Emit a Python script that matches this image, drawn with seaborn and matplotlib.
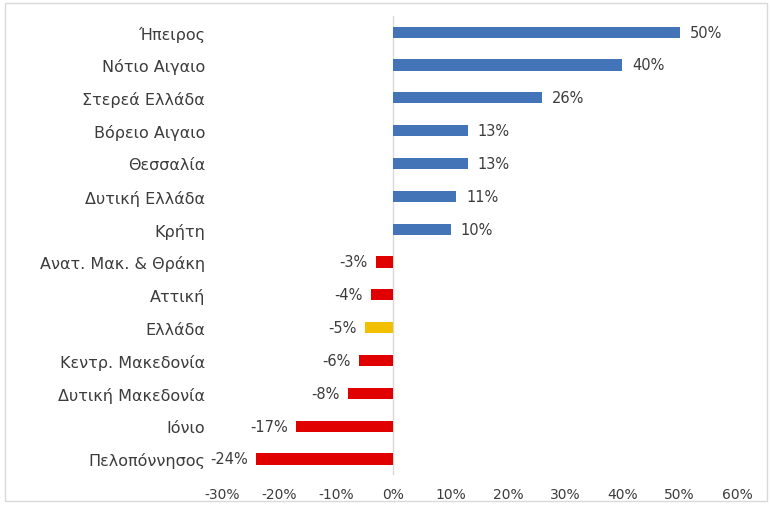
import matplotlib
matplotlib.use("Agg")
import matplotlib.pyplot as plt
import seaborn as sns
import pandas as pd
from matplotlib.patches import Rectangle

categories = ["Ήπειρος", "Νότιο Αιγαιο", "Στερεά Ελλάδα", "Βόρειο Αιγαιο", "Θεσσαλία",
              "Δυτική Ελλάδα", "Κρήτη", "Ανατ. Μακ. & Θράκη", "Αττική", "Ελλάδα",
              "Κεντρ. Μακεδονία", "Δυτική Μακεδονία", "Ιόνιο", "Πελοπόννησος"]
values = [50, 40, 26, 13, 13, 11, 10, -3, -4, -5, -6, -8, -17, -24]
tick_values = [-30, -20, -10, 0, 10, 20, 30, 40, 50, 60]
tick_labels = [f"{v}%" for v in tick_values]

BLUE = "#4474B8"
RED = "#E00000"
GOLD = "#F2C000"
colors = {c: (GOLD if c == "Ελλάδα" else (BLUE if v >= 0 else RED)) for c, v in zip(categories, values)}

df = pd.DataFrame({"region": categories, "value": values})

sns.set_theme(style="white")
plt.rcParams["font.family"] = ["DejaVu Sans"]
TXT = "#3c3c3c"

fig = plt.figure(figsize=(7.7, 5.06), dpi=100)
ax = fig.add_axes([0.288, 0.0585, 0.669, 0.9085])

sns.barplot(data=df, x="value", y="region", hue="region", palette=colors,
            order=categories, orient="h", width=0.34, legend=False, ax=ax,
            saturation=1, edgecolor="none")

ax.axvline(0, color="#d9d9d9", lw=1, zorder=0)
ax.set_xlim(-30, 60)
ax.set_ylim(13.5, -0.5)
ax.set_xticks(tick_values)
ax.set_xticklabels(tick_labels)
ax.set_xlabel("")
ax.set_ylabel("")
ax.tick_params(axis="both", length=0, colors=TXT, labelsize=10)
ax.tick_params(axis="y", pad=12, labelsize=11.5)
ax.tick_params(axis="x", pad=8)
for s in ax.spines.values():
    s.set_visible(False)

for i, v in enumerate(values):
    if v >= 0:
        ax.annotate(f"{v}%", (v, i), xytext=(7, 0), textcoords="offset points",
                    ha="left", va="center", fontsize=10.5, color=TXT)
    else:
        ax.annotate(f"{v}%", (v, i), xytext=(-6, 0), textcoords="offset points",
                    ha="right", va="center", fontsize=10.5, color=TXT)

fig.patches.append(Rectangle((5 / 770, 4 / 506), 762 / 770, 498 / 506, transform=fig.transFigure,
                             fill=False, edgecolor="#d9d9d9", lw=1))

fig.savefig("out.png", dpi=100)
